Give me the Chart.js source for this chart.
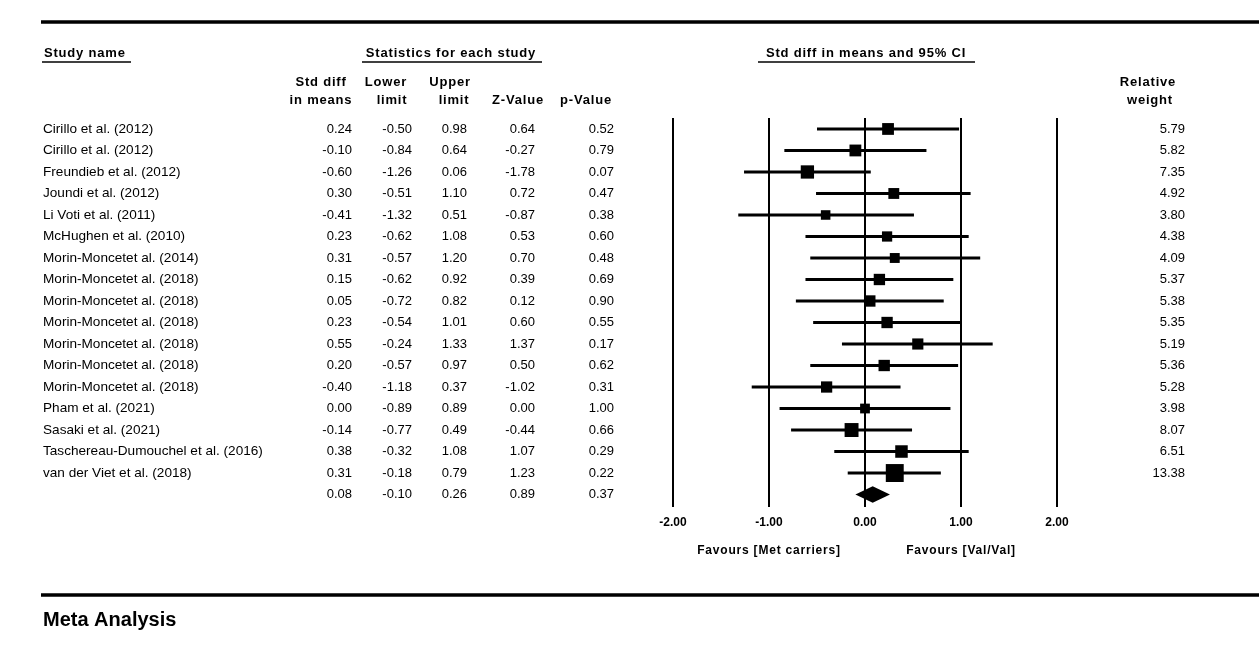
<!DOCTYPE html>
<html>
<head>
<meta charset="utf-8">
<script src="https://cdn.jsdelivr.net/npm/chart.js@4.4.1/dist/chart.umd.min.js"></script>
<style>
  body { margin: 0; background: #fff; }
  canvas { display: block; }
</style>
</head>
<body>
<canvas id="forest" width="1259" height="647"></canvas>
<script>
const studies = [
    'Cirillo et al. (2012)',
    'Cirillo et al. (2012)',
    'Freundieb et al. (2012)',
    'Joundi et al. (2012)',
    'Li Voti et al. (2011)',
    'McHughen et al. (2010)',
    'Morin-Moncetet al. (2014)',
    'Morin-Moncetet al. (2018)',
    'Morin-Moncetet al. (2018)',
    'Morin-Moncetet al. (2018)',
    'Morin-Moncetet al. (2018)',
    'Morin-Moncetet al. (2018)',
    'Morin-Moncetet al. (2018)',
    'Pham et al. (2021)',
    'Sasaki et al. (2021)',
    'Taschereau-Dumouchel et al. (2016)',
    'van der Viet et al. (2018)'
];
const stdDiff = [0.24, -0.10, -0.60, 0.30, -0.41, 0.23, 0.31, 0.15, 0.05, 0.23, 0.55, 0.20, -0.40, 0.00, -0.14, 0.38, 0.31];
const lower = [-0.50, -0.84, -1.26, -0.51, -1.32, -0.62, -0.57, -0.62, -0.72, -0.54, -0.24, -0.57, -1.18, -0.89, -0.77, -0.32, -0.18];
const upper = [0.98, 0.64, 0.06, 1.10, 0.51, 1.08, 1.20, 0.92, 0.82, 1.01, 1.33, 0.97, 0.37, 0.89, 0.49, 1.08, 0.79];
const zValue = [0.64, -0.27, -1.78, 0.72, -0.87, 0.53, 0.70, 0.39, 0.12, 0.60, 1.37, 0.50, -1.02, 0.00, -0.44, 1.07, 1.23];
const pValue = [0.52, 0.79, 0.07, 0.47, 0.38, 0.60, 0.48, 0.69, 0.90, 0.55, 0.17, 0.62, 0.31, 1.00, 0.66, 0.29, 0.22];
const weight = [5.79, 5.82, 7.35, 4.92, 3.80, 4.38, 4.09, 5.37, 5.38, 5.35, 5.19, 5.36, 5.28, 3.98, 8.07, 6.51, 13.38];
// summary row: std diff, lower, upper, z, p
const summaryStats = [0.08, -0.10, 0.26, 0.89, 0.37];
const xTicks = [-2, -1, 0, 1, 2];

const FONT = "'Liberation Sans', Arial, sans-serif";
const sumRow = studies.length;

// CI lines, broken between studies
const ciData = [];
studies.forEach((s, i) => {
    ciData.push({ x: lower[i], y: i }, { x: upper[i], y: i }, { x: null, y: null });
});
const boxData = studies.map((s, i) => ({ x: stdDiff[i], y: i }));
// box area follows the weight
const boxRadius = weight.map(w => 4.9 * Math.sqrt(w) / Math.SQRT2);

function txt(c, s, x, y, align, font, spacing) {
    c.font = font;
    c.textAlign = align;
    c.textBaseline = 'middle';
    c.letterSpacing = spacing || '0px';
    c.fillText(s, x, y);
}
function rule(c, x1, x2, y, w) {
    c.beginPath();
    c.lineWidth = w;
    c.moveTo(x1, y);
    c.lineTo(x2, y);
    c.stroke();
}

const tablePlugin = {
    id: 'table',
    beforeDraw(chart) {
        const c = chart.ctx;
        c.save();
        c.fillStyle = '#fff';
        c.fillRect(0, 0, chart.width, chart.height);
        c.strokeStyle = '#000';
        rule(c, 41, 1259, 22, 3.5);
        rule(c, 41, 1259, 595, 3.5);
        c.restore();
    },
    afterDatasetsDraw(chart) {
        const c = chart.ctx;
        const xs = chart.scales.x, ys = chart.scales.y;
        // summary diamond
        const yc = ys.getPixelForValue(sumRow);
        const h = ys.getPixelForValue(sumRow + 0.38) - yc;
        c.save();
        c.fillStyle = '#000';
        c.beginPath();
        c.moveTo(xs.getPixelForValue(summaryStats[1]), yc);
        c.lineTo(xs.getPixelForValue(summaryStats[0]), yc - h);
        c.lineTo(xs.getPixelForValue(summaryStats[2]), yc);
        c.lineTo(xs.getPixelForValue(summaryStats[0]), yc + h);
        c.closePath();
        c.fill();
        c.restore();
    },
    afterDraw(chart) {
        const c = chart.ctx;
        const ys = chart.scales.y;
        const bold = 'bold 13px ' + FONT;
        const reg = '13px ' + FONT;
        const nameFont = '13.6px ' + FONT;
        c.save();
        c.fillStyle = '#000';
        c.strokeStyle = '#000';

        txt(c, 'Study name', 44, 53, 'left', bold, '0.8px');
        rule(c, 42, 131, 62, 1.5);
        txt(c, 'Statistics for each study', 451, 53, 'center', bold, '0.8px');
        rule(c, 362, 542, 62, 1.5);
        txt(c, 'Std diff in means and 95% CI', 866, 53, 'center', bold, '0.8px');
        rule(c, 758, 975, 62, 1.5);

        txt(c, 'Std diff', 321, 82, 'center', bold, '0.8px');
        txt(c, 'in means', 321, 100, 'center', bold, '0.8px');
        txt(c, 'Lower', 386, 82, 'center', bold, '0.8px');
        txt(c, 'limit', 392, 100, 'center', bold, '0.8px');
        txt(c, 'Upper', 450, 82, 'center', bold, '0.8px');
        txt(c, 'limit', 454, 100, 'center', bold, '0.8px');
        txt(c, 'Z-Value', 518, 100, 'center', bold, '0.8px');
        txt(c, 'p-Value', 586, 100, 'center', bold, '0.8px');
        txt(c, 'Relative', 1148, 82, 'center', bold, '0.8px');
        txt(c, 'weight', 1150, 100, 'center', bold, '0.8px');

        const f = v => v.toFixed(2);
        studies.forEach((s, i) => {
            const y = ys.getPixelForValue(i);
            txt(c, s, 43, y, 'left', nameFont);
            txt(c, f(stdDiff[i]), 352, y, 'right', reg);
            txt(c, f(lower[i]), 412, y, 'right', reg);
            txt(c, f(upper[i]), 467, y, 'right', reg);
            txt(c, f(zValue[i]), 535, y, 'right', reg);
            txt(c, f(pValue[i]), 614, y, 'right', reg);
            txt(c, f(weight[i]), 1185, y, 'right', reg);
        });
        const ySum = ys.getPixelForValue(sumRow);
        [352, 412, 467, 535, 614].forEach((x, k) => txt(c, f(summaryStats[k]), x, ySum, 'right', reg));

        txt(c, 'Favours [Met carriers]', 769, 551, 'center', 'bold 12px ' + FONT, '0.8px');
        txt(c, 'Favours [Val/Val]', 961, 551, 'center', 'bold 12px ' + FONT, '0.8px');
        txt(c, 'Meta Analysis', 43, 620, 'left', 'bold 20px ' + FONT);
        c.restore();
    }
};

new Chart(document.getElementById('forest'), {
    data: {
        datasets: [
            {
                type: 'line',
                data: ciData,
                borderColor: '#000',
                borderWidth: 3,
                pointRadius: 0,
                spanGaps: false,
                fill: false
            },
            {
                type: 'scatter',
                data: boxData,
                pointStyle: 'rect',
                pointRadius: boxRadius,
                backgroundColor: '#000',
                borderWidth: 0
            }
        ]
    },
    options: {
        responsive: false,
        animation: false,
        events: [],
        layout: { padding: { left: 673, right: 202, top: 118, bottom: 110 } },
        plugins: { legend: { display: false }, tooltip: { enabled: false } },
        scales: {
            x: {
                type: 'linear',
                min: -2,
                max: 2,
                afterBuildTicks: s => { s.ticks = xTicks.map(v => ({ value: v })); },
                afterFit: s => { s.height = 30; },
                grid: { color: '#000', lineWidth: 2, drawTicks: false },
                border: { display: false },
                ticks: {
                    padding: 8,
                    color: '#000',
                    font: { family: FONT, size: 12, weight: 'bold' },
                    callback: v => v.toFixed(2)
                }
            },
            y: {
                type: 'linear',
                reverse: true,
                min: -0.51,
                max: 17.58,
                display: false
            }
        }
    },
    plugins: [tablePlugin]
});
</script>
</body>
</html>
